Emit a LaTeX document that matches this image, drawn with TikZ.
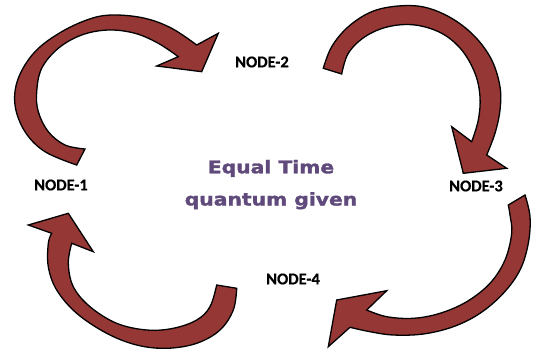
\documentclass[tikz,border=0pt]{standalone}
\usepackage{fontspec}
\newfontfamily\labelfont[FakeBold=0.6]{Carlito Bold}
\newfontfamily\titlefont[FakeBold=1.6]{DejaVu Sans Bold}
\definecolor{arrowred}{RGB}{149,55,53}
\definecolor{titlepurple}{RGB}{96,74,123}
\begin{document}
\begin{tikzpicture}[x=1pt,y=-1pt,
  curvedarrow/.style={draw=black,line width=1.3pt,fill=arrowred,line join=miter},
  nodelabel/.style={font=\labelfont\fontsize{16.5}{18}\selectfont,text=black,inner sep=0pt},
  titlelabel/.style={font=\titlefont\fontsize{17.5}{20}\selectfont,text=titlepurple,inner sep=0pt}]
\useasboundingbox (0,0) rectangle (533,353);
% arrow 1 (top-left)
\draw[curvedarrow] (85,149) -- (76.7,165)
  -- plot[smooth,tension=0.6] coordinates {(76.7,165) (45,151.7) (25,131.7) (15,105) (18.3,78.3) (35,51.7) (61.7,31.7) (91.7,18.3) (115,15) (145,18.3) (171.7,28.3) (196.7,45)}
  -- (218.3,33.3) -- (201.7,71.7) -- (156.7,66) -- (178.3,56.7)
  -- plot[smooth,tension=0.6] coordinates {(178.3,56.7) (158.3,43.3) (135,33.3) (108.3,30) (81.7,35) (58.3,48.3) (41.7,68.3) (36.7,91.7) (38.3,111.7) (48.3,131.7) (65,145) (85,149)}
  -- cycle;
% arrow 2 (top-right)
\draw[curvedarrow] (341.7,74) -- (323.3,68.3)
  -- plot[smooth,tension=0.6] coordinates {(323.3,68.3) (331.7,46.7) (348.3,26.7) (371.7,11.7) (398.3,6) (425,7.3) (451.7,18.3) (475,36.7) (491.7,60) (500,86.7) (500,110) (495,133.3) (486.7,155)}
  -- (506.7,168.3) -- (463.3,173.3) -- (451.7,126.7) -- (471.7,141.7)
  -- plot[smooth,tension=0.6] coordinates {(471.7,141.7) (478.3,120) (480,96.7) (475,73.3) (461.7,50) (441.7,33.3) (415,25) (388.3,26.7) (365,36.7) (348.3,53.3) (341.7,74)}
  -- cycle;
% arrow 3 (bottom-right)
\draw[curvedarrow] (508.3,205) -- (525,195)
  -- plot[smooth,tension=0.6] coordinates {(525,195) (530,216.7) (528.3,243.3) (520,270) (503.3,293.3) (480,313.3) (453.3,326.7) (423.3,334) (393.3,335) (370,331.7) (350,327.3)}
  -- (328.3,346.7) -- (336.7,300) -- (386.7,290.7) -- (366.7,310)
  -- plot[smooth,tension=0.6] coordinates {(366.7,310) (386.7,316.7) (413.3,318.3) (440,313.3) (466.7,301.7) (490,283.3) (505,260) (511.7,233.3) (510,215) (508.3,205)}
  -- cycle;
% arrow 4 (bottom-left)
\draw[curvedarrow] (216.7,285) -- (236.7,288.3)
  -- plot[smooth,tension=0.6] coordinates {(236.7,288.3) (233.3,310) (220,330) (196.7,343.3) (166.7,348.3) (136.7,345) (106.7,333.3) (76.7,313.3) (56.7,290) (48.3,266.7) (48.3,243.3) (51.7,233.3)}
  -- (28.3,225) -- (68.3,213.3) -- (93.3,251.7) -- (71.7,243.3)
  -- plot[smooth,tension=0.6] coordinates {(71.7,243.3) (68.3,263.3) (73.3,286.7) (90,306.7) (116.7,323.3) (146.7,330) (173.3,328.3) (196.7,320) (210,306.7) (216.7,285)}
  -- cycle;
% labels
\node[nodelabel] (n1) at (61,185) {NODE-1};
\node[nodelabel] (n2) at (262,62) {NODE-2};
\node[nodelabel] (n3) at (476,186) {NODE-3};
\node[nodelabel] (n4) at (293,279) {NODE-4};
\node[titlelabel,anchor=base] (t1) at (271,173.3) {\scalebox{1.16}[1]{Equal Time}};
\node[titlelabel,anchor=base] (t2) at (271,205.5) {\scalebox{1.16}[1]{quantum given}};
\end{tikzpicture}
\end{document}
